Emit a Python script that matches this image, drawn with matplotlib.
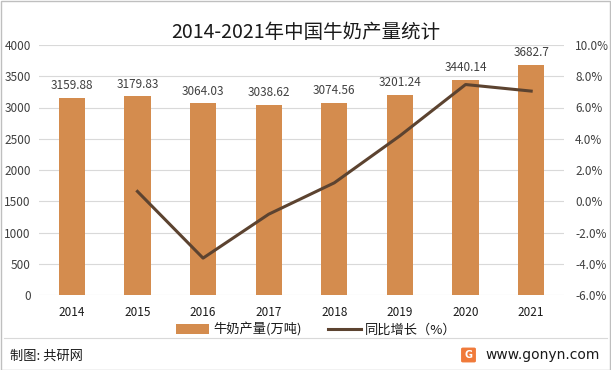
import numpy as np
import matplotlib
matplotlib.use("Agg")
import matplotlib.pyplot as plt
from matplotlib.patches import Rectangle, FancyBboxPatch

plt.rcParams['font.family'] = ['Noto Sans CJK SC', 'DejaVu Sans']

years = ["2014", "2015", "2016", "2017", "2018", "2019", "2020", "2021"]
output = [3159.88, 3179.83, 3064.03, 3038.62, 3074.56, 3201.24, 3440.14, 3682.7]
growth_years = ["2015", "2016", "2017", "2018", "2019", "2020", "2021"]
growth = [0.63, -3.64, -0.83, 1.18, 4.19, 7.47, 7.05]

bar_color = "#D48C4E"
line_color = "#5C4330"
grid_color = "#D9D9D9"
text_color = "#404040"

fig = plt.figure(figsize=(6.11, 3.70), dpi=100)
ax = fig.add_axes([39/611, 1 - 295/370, 525/611, 250/370])
x = np.arange(len(years))
ax.bar(x, output, width=0.4, color=bar_color, zorder=2, label="牛奶产量(万吨)")
for xi, v in zip(x, output):
    ax.text(xi, v + 90, f"{v:g}", ha="center", va="bottom",
            fontsize=8.5, color=text_color)
ax.set_ylim(0, 4000)
ax.set_yticks(np.arange(0, 4001, 500))
ax.set_xlim(-0.5, len(years) - 0.5)
ax.set_xticks(x)
ax.set_xticklabels(years)
ax.grid(axis="y", color=grid_color, linewidth=0.8, zorder=0)
ax.set_axisbelow(True)
for s in ax.spines.values():
    s.set_visible(False)
ax.tick_params(axis="y", length=0, labelsize=8.5, colors=text_color, pad=6)
ax.tick_params(axis="x", length=0, labelsize=8.5, colors="#1a1a1a", pad=8)

ax2 = ax.twinx()
gx = [years.index(y) for y in growth_years]
ax2.plot(gx, growth, color=line_color, linewidth=2.2, zorder=3, label="同比增长（%）")
ax2.set_ylim(-6, 10)
ax2.set_yticks(np.arange(-6, 10.1, 2))
ax2.set_yticklabels([f"{t:.1f}%" for t in np.arange(-6, 10.1, 2)])
for s in ax2.spines.values():
    s.set_visible(False)
ax2.tick_params(axis="y", length=0, labelsize=8.5, colors=text_color, pad=8)

fig.text(0.5, 1 - 32/370, "2014-2021年中国牛奶产量统计", ha="center", va="center",
         fontsize=14, color="#1a1a1a")

h1, l1 = ax.get_legend_handles_labels()
h2, l2 = ax2.get_legend_handles_labels()
fig.legend(h1 + h2, l1 + l2, loc="center", bbox_to_anchor=(0.518, 1 - 330/370),
           ncol=2, frameon=False, fontsize=9.5, handlelength=2.5, handleheight=0.8,
           handletextpad=0.3, columnspacing=2.0, labelcolor="#1a1a1a")

fig.add_artist(plt.Line2D([4/611, 607/611], [1 - 338/370, 1 - 338/370],
                          color="#D9D9D9", linewidth=0.8))
fig.text(10/611, 1 - 356/370, "制图: 共研网", ha="left", va="center",
         fontsize=9.5, color="#1a1a1a")
fig.text(600/611, 1 - 355/370, "www.gonyn.com", ha="right", va="center",
         fontsize=10, color="#1a1a1a", family=["DejaVu Sans"])
fig.add_artist(FancyBboxPatch((463/611, 1 - 361/370), 11/611, 12/370,
                              boxstyle="round,pad=0.002", color="#F07A3A",
                              transform=fig.transFigure))
fig.text(468.5/611, 1 - 355/370, "G", ha="center", va="center", fontsize=7,
         color="white", weight="bold", family=["DejaVu Sans"])

fig.add_artist(Rectangle((0.5/611, 0.5/370), 609.5/611, 368.5/370, fill=False,
                         edgecolor="#BFBFBF", linewidth=1, transform=fig.transFigure))

fig.savefig("out.png", dpi=100)
